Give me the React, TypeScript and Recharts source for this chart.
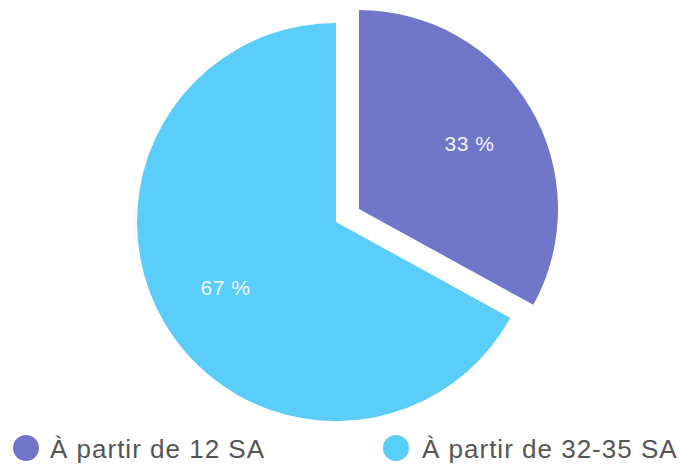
import React from "react";
import { PieChart, Pie, Cell } from "recharts";

const categories = ["À partir de 12 SA", "À partir de 32-35 SA"];
const values = [33, 67];
const colors = ["#7077c9", "#5bcdfa"];

const data = categories.map((name, i) => ({ name, value: values[i] }));

const RAD = Math.PI / 180;

const makeLabel = (visibleIndex: number) => (props: any) => {
  const { cx, cy, midAngle, outerRadius, index, value } = props;
  if (index !== visibleIndex) return null;
  const r = outerRadius * 0.645;
  const x = cx + r * Math.cos(-midAngle * RAD);
  const y = cy + r * Math.sin(-midAngle * RAD);
  return (
    <text
      x={x}
      y={y}
      fill="#ffffff"
      fillOpacity={0.92}
      textAnchor="middle"
      dominantBaseline="central"
      fontSize={21}
      letterSpacing={0.5}
      fontFamily="'Liberation Sans', Arial, sans-serif"
    >
      {`${value} %`}
    </text>
  );
};

const legendCircleX = [26, 396];
const legendTextX = [50, 422];

export default function App() {
  return (
    <div style={{ position: "absolute", left: 0, top: 0, width: 681, height: 467, background: "#fff" }}>
      <PieChart width={681} height={467} margin={{ top: 0, right: 0, bottom: 0, left: 0 }}>
        <Pie
          data={data}
          dataKey="value"
          nameKey="name"
          cx={336}
          cy={222}
          outerRadius={199}
          startAngle={90}
          endAngle={-270}
          isAnimationActive={false}
          label={makeLabel(1)}
          labelLine={false}
          stroke="none"
        >
          {data.map((d, i) => (
            <Cell key={d.name} fill={i === 1 ? colors[1] : "transparent"} stroke="none" />
          ))}
        </Pie>
        <Pie
          data={data}
          dataKey="value"
          nameKey="name"
          cx={359}
          cy={209}
          outerRadius={199}
          startAngle={90}
          endAngle={-270}
          isAnimationActive={false}
          label={makeLabel(0)}
          labelLine={false}
          stroke="none"
        >
          {data.map((d, i) => (
            <Cell key={d.name} fill={i === 0 ? colors[0] : "transparent"} stroke="none" />
          ))}
        </Pie>
      </PieChart>
      {categories.map((c, i) => (
        <React.Fragment key={c}>
          <div
            style={{
              position: "absolute",
              left: legendCircleX[i] - 13,
              top: 448 - 13,
              width: 26,
              height: 26,
              borderRadius: "50%",
              background: colors[i],
            }}
          />
          <div
            style={{
              position: "absolute",
              left: legendTextX[i],
              top: 436,
              lineHeight: "26px",
              fontFamily: "'Liberation Sans', Arial, sans-serif",
              fontSize: 26,
              letterSpacing: 1,
              color: "#555555",
              whiteSpace: "nowrap",
            }}
          >
            {c}
          </div>
        </React.Fragment>
      ))}
    </div>
  );
}
